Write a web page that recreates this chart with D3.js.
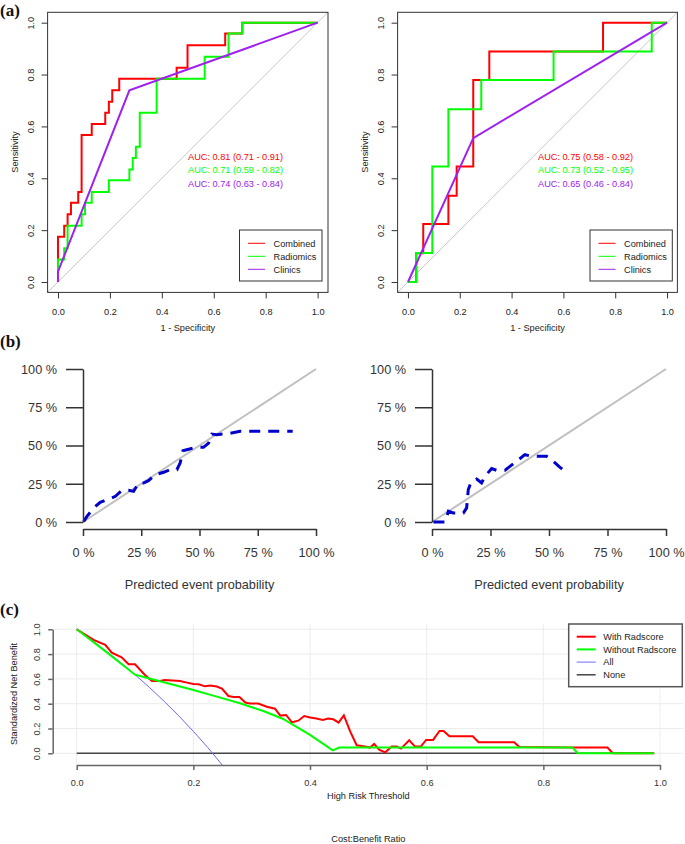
<!DOCTYPE html>
<html><head><meta charset="utf-8">
<script src="https://cdn.jsdelivr.net/npm/d3@7"></script>
<style>
html,body{margin:0;padding:0;background:#fff;}
svg{display:block;}
text{font-family:"Liberation Sans",Arial,sans-serif;fill:#222;}
</style></head>
<body>
<script>
// ---------- DATA ----------
// (a) ROC curves, left (training) – step vertices (FPR, TPR)
const rocLCombFpr = [0,0.024,0.037,0.05,0.078,0.091,0.13,0.182,0.196,0.209,0.236,0.457,0.499,0.644,0.71,1];
const rocLCombTpr = [0,0.175,0.217,0.261,0.306,0.347,0.567,0.609,0.653,0.695,0.739,0.784,0.826,0.913,0.958,1];
const rocLRadFpr  = [0,0.024,0.037,0.091,0.104,0.13,0.196,0.275,0.288,0.30,0.315,0.38,0.565,0.657,0.71,1];
const rocLRadTpr  = [0,0.087,0.13,0.217,0.261,0.306,0.347,0.392,0.434,0.478,0.522,0.653,0.784,0.869,0.958,1];
const rocLCliFpr  = [0,0,0.275,1];
const rocLCliTpr  = [0,0.04,0.739,1];
// (a) ROC curves, right (validation)
const rocRCombFpr = [0,0.032,0.059,0.156,0.188,0.252,0.314,0.753,1];
const rocRCombTpr = [0,0,0.111,0.224,0.333,0.445,0.779,0.889,1];
const rocRRadFpr  = [0,0.032,0.094,0.156,0.283,0.562,0.941,1];
const rocRRadTpr  = [0,0,0.112,0.445,0.666,0.779,0.889,1];
const rocRCliFpr  = [0,0.252,1];
const rocRCliTpr  = [0,0.555,1];
const aucLeft  = ["AUC: 0.81 (0.71 - 0.91)","AUC: 0.71 (0.59 - 0.82)","AUC: 0.74 (0.63 - 0.84)"];
const aucRight = ["AUC: 0.75 (0.58 - 0.92)","AUC: 0.73 (0.52 - 0.95)","AUC: 0.65 (0.46 - 0.84)"];
const rocLegend = ["Combined","Radiomics","Clinics"];
const rocTicks = [0,0.2,0.4,0.6,0.8,1.0];

// (b) calibration curves
const calLPred = [0.003,0.017,0.046,0.074,0.117,0.139,0.167,0.196,0.217,0.239,0.26,0.281,0.31,0.346,0.374,0.403,0.417,0.429,0.457,0.481,0.517,0.539,0.553,0.574,0.603,0.631,0.674,0.789,0.9];
const calLObs  = [0.004,0.037,0.092,0.129,0.153,0.168,0.207,0.207,0.2,0.255,0.255,0.27,0.309,0.325,0.342,0.342,0.386,0.466,0.477,0.488,0.488,0.516,0.575,0.571,0.575,0.58,0.593,0.593,0.593];
const calRPred = [0.006,0.056,0.07,0.091,0.134,0.148,0.155,0.167,0.191,0.212,0.226,0.255,0.276,0.312,0.348,0.397,0.426,0.49,0.511,0.547,0.575];
const calRObs  = [0,0,0.07,0.059,0.059,0.092,0.211,0.261,0.281,0.255,0.298,0.349,0.338,0.338,0.381,0.44,0.429,0.429,0.407,0.357,0.325];
const calTicks = [0,0.25,0.5,0.75,1];
const calTickLabels = ["0 %","25 %","50 %","75 %","100 %"];

// (c) decision curves
const dcaWithX = [0,0.029,0.049,0.06,0.077,0.089,0.1,0.117,0.129,0.143,0.151,0.177,0.189,0.2,0.209,0.22,0.229,0.24,0.249,0.26,0.269,0.279,0.289,0.297,0.311,0.326,0.34,0.349,0.359,0.369,0.38,0.39,0.4,0.411,0.422,0.431,0.44,0.449,0.458,0.469,0.48,0.494,0.503,0.51,0.519,0.529,0.54,0.549,0.556,0.57,0.58,0.59,0.599,0.611,0.622,0.629,0.639,0.679,0.689,0.75,0.759,0.85,0.91,0.919,0.99];
const dcaWithY = [1,0.914,0.874,0.812,0.774,0.718,0.718,0.632,0.583,0.583,0.591,0.583,0.57,0.559,0.556,0.54,0.546,0.538,0.522,0.462,0.454,0.454,0.409,0.401,0.401,0.376,0.36,0.304,0.309,0.25,0.263,0.301,0.288,0.28,0.269,0.28,0.274,0.247,0.306,0.175,0.065,0.054,0.046,0.075,0.027,0.008,0.054,0.054,0.038,0.105,0.054,0.054,0.108,0.108,0.18,0.18,0.137,0.137,0.089,0.089,0.051,0.046,0.046,0,0];
const dcaWithoutX = [0,0.05,0.1,0.12,0.2,0.24,0.28,0.32,0.354,0.4,0.439,0.45,0.85,0.859,0.99];
const dcaWithoutY = [1,0.82,0.634,0.61,0.51,0.457,0.403,0.341,0.277,0.148,0.024,0.046,0.046,0,0];
const dcaAllX = [0,0.025,0.05,0.075,0.1,0.125,0.15,0.175,0.2,0.225,0.25];
const dcaAllY = [1,0.916,0.827,0.733,0.634,0.530,0.419,0.302,0.177,0.045,-0.097];
const dcaNoneX = [0,0.99];
const dcaNoneY = [0,0];
const dcaLegend = ["With Radscore","Without Radscore","All","None"];
const dcaTicks = [0,0.2,0.4,0.6,0.8,1.0];

// ---------- DRAW ----------
const W = 685, H = 844;
const svg = d3.select("body").append("svg").attr("width", W).attr("height", H);
const fmt1 = d3.format(".1f");
const zip = (a, b) => a.map((v, i) => [v, b[i]]);

function panelLabel(t, x, y) {
  svg.append("text").attr("x", x).attr("y", y).text(t)
    .style("font-family", "'Liberation Serif','Times New Roman',serif")
    .style("font-weight", "bold").style("font-size", "17px").style("fill", "#111");
}

// ===== (a) ROC =====
function rocPanel(x0, x1, curves, aucTexts, aucX, legX0, legX1) {
  const x = d3.scaleLinear().domain([-0.04, 1.04]).range([x0, x1]);
  const y = d3.scaleLinear().domain([-0.04, 1.04]).range([292.4, 12.3]);
  const g = svg.append("g");
  const clipId = "clip" + Math.round(x0);
  svg.append("clipPath").attr("id", clipId).append("rect")
    .attr("x", x(-0.04)).attr("y", y(1.04)).attr("width", x(1.04) - x(-0.04)).attr("height", y(-0.04) - y(1.04));
  // diagonal
  g.append("line").attr("clip-path", `url(#${clipId})`)
    .attr("x1", x(-0.04)).attr("y1", y(-0.04)).attr("x2", x(1.04)).attr("y2", y(1.04))
    .attr("stroke", "#c8c8c8").attr("stroke-width", 1);
  curves.forEach(c => {
    const line = d3.line().x(d => x(d[0])).y(d => y(d[1])).curve(c.step ? d3.curveStepBefore : d3.curveLinear);
    g.append("path").attr("d", line(zip(c.fx, c.ty))).attr("fill", "none")
      .attr("stroke", c.color).attr("stroke-width", 2);
  });
  // box
  g.append("rect").attr("x", x(-0.04)).attr("y", y(1.04)).attr("width", x(1.04) - x(-0.04))
    .attr("height", y(-0.04) - y(1.04)).attr("fill", "none").attr("stroke", "#333").attr("stroke-width", 1);
  // x axis
  const ax = g.append("g").attr("transform", `translate(0,${y(-0.04)})`)
    .call(d3.axisBottom(x).tickValues(rocTicks).tickFormat(fmt1).tickSize(6).tickSizeOuter(0));
  ax.select(".domain").remove();
  ax.selectAll("line").attr("stroke", "#333");
  ax.selectAll("text").attr("y", 19.5).attr("dy", "0.35em").style("font-size", "9.2px").style("fill", "#222")
    .style("font-family", "'Liberation Sans',Arial,sans-serif");
  // y axis
  const ay = g.append("g").attr("transform", `translate(${x(-0.04)},0)`)
    .call(d3.axisLeft(y).tickValues(rocTicks).tickFormat(fmt1).tickSize(6).tickSizeOuter(0));
  ay.select(".domain").remove();
  ay.selectAll("line").attr("stroke", "#333");
  ay.selectAll("text").attr("x", 0).attr("y", 0).attr("dy", "0.35em").attr("text-anchor", "middle")
    .attr("transform", "translate(-16.6,0) rotate(-90)").style("font-size", "9.2px").style("fill", "#222")
    .style("font-family", "'Liberation Sans',Arial,sans-serif");
  // axis titles
  g.append("text").attr("x", (x(-0.04) + x(1.04)) / 2).attr("y", 327.5).attr("dy", "0.35em")
    .attr("text-anchor", "middle").style("font-size", "9.2px").text("1 - Specificity");
  g.append("text").attr("transform", `translate(${x0 - 32.5},152) rotate(-90)`).attr("dy", "0.35em")
    .attr("text-anchor", "middle").style("font-size", "9.2px").text("Sensitivity");
  // AUC texts
  aucTexts.forEach((t, i) => {
    g.append("text").attr("x", aucX).attr("y", 157 + i * 13.2).attr("dy", "0.35em")
      .style("font-size", "9.2px").style("fill", curves[i].color).text(t);
  });
  // legend
  g.append("rect").attr("x", legX0).attr("y", 230).attr("width", legX1 - legX0).attr("height", 51)
    .attr("fill", "#fff").attr("stroke", "#333").attr("stroke-width", 1);
  rocLegend.forEach((t, i) => {
    const ly = 243.3 + i * 13;
    g.append("line").attr("x1", legX0 + 8.5).attr("x2", legX0 + 25.5).attr("y1", ly).attr("y2", ly)
      .attr("stroke", curves[i].color).attr("stroke-width", 1);
    g.append("text").attr("x", legX0 + 34).attr("y", ly).attr("dy", "0.35em").style("font-size", "9.2px").text(t);
  });
}
const RED = "#ff0000", GREEN = "#00ff00", PURPLE = "#a020f0";
rocPanel(47.6, 328, [
  {fx: rocLCombFpr, ty: rocLCombTpr, color: RED, step: true},
  {fx: rocLRadFpr, ty: rocLRadTpr, color: GREEN, step: true},
  {fx: rocLCliFpr, ty: rocLCliTpr, color: PURPLE, step: false}
], aucLeft, 188, 239.5, 322);
rocPanel(397.6, 677.4, [
  {fx: rocRCombFpr, ty: rocRCombTpr, color: RED, step: true},
  {fx: rocRRadFpr, ty: rocRRadTpr, color: GREEN, step: true},
  {fx: rocRCliFpr, ty: rocRCliTpr, color: PURPLE, step: false}
], aucRight, 538, 590, 672.3);
panelLabel("(a)", 0, 16);

// ===== (b) calibration =====
function calPanel(x0, x1, px, py) {
  const x = d3.scaleLinear().domain([0, 1]).range([x0, x1]);
  const y = d3.scaleLinear().domain([0, 1]).range([522, 369]);
  const g = svg.append("g");
  g.append("line").attr("x1", x(0)).attr("y1", y(0)).attr("x2", x(1)).attr("y2", y(1))
    .attr("stroke", "#c0c0c0").attr("stroke-width", 2);
  const line = d3.line().x(d => x(d[0])).y(d => y(d[1]));
  g.append("path").attr("d", line(zip(px, py))).attr("fill", "none")
    .attr("stroke", "#0000cc").attr("stroke-width", 3).attr("stroke-dasharray", "11,8");
  const ax = g.append("g").attr("transform", "translate(0,529)")
    .call(d3.axisBottom(x).tickValues(calTicks).tickFormat((d, i) => calTickLabels[i]).tickSize(7).tickSizeOuter(0));
  ax.select(".domain").attr("stroke", "#333").attr("stroke-width", 1.5);
  ax.selectAll("line").attr("stroke", "#333").attr("stroke-width", 1.5);
  ax.selectAll("text").attr("y", 24).attr("dy", "0.35em").style("font-size", "12.7px").style("fill", "#333")
    .style("font-family", "'Liberation Sans',Arial,sans-serif");
  const ay = g.append("g").attr("transform", `translate(${x0},0)`)
    .call(d3.axisLeft(y).tickValues(calTicks).tickFormat((d, i) => calTickLabels[i]).tickSize(17).tickSizeOuter(0));
  ay.select(".domain").attr("stroke", "#333").attr("stroke-width", 1.5);
  ay.selectAll("line").attr("stroke", "#333").attr("stroke-width", 1.5);
  ay.selectAll("text").attr("x", -26).attr("dy", "0.35em").style("font-size", "12.7px").style("fill", "#333")
    .style("font-family", "'Liberation Sans',Arial,sans-serif");
  g.append("text").attr("x", (x0 + x1) / 2).attr("y", 585).attr("dy", "0.35em").attr("text-anchor", "middle")
    .style("font-size", "12.7px").style("fill", "#333").text("Predicted event probability");
}
calPanel(83, 316, calLPred, calLObs);
calPanel(432, 666, calRPred, calRObs);
panelLabel("(b)", 0, 347);

// ===== (c) DCA =====
(function () {
  const x = d3.scaleLinear().domain([0, 1]).range([76.7, 660]);
  const y = d3.scaleLinear().domain([0, 1]).range([753.3, 629.3]);
  const left = x(-0.04), right = x(1.04), top = 624, bottom = 765;
  const g = svg.append("g");
  svg.append("clipPath").attr("id", "clipc").append("rect")
    .attr("x", left).attr("y", top).attr("width", right - left).attr("height", bottom - top);
  // grid
  dcaTicks.forEach(t => {
    g.append("line").attr("x1", left).attr("x2", right).attr("y1", y(t)).attr("y2", y(t))
      .attr("stroke", "#ececec").attr("stroke-width", 1);
    g.append("line").attr("x1", x(t)).attr("x2", x(t)).attr("y1", top).attr("y2", bottom)
      .attr("stroke", "#ececec").attr("stroke-width", 1);
  });
  const line = d3.line().x(d => x(d[0])).y(d => y(d[1]));
  const cg = g.append("g").attr("clip-path", "url(#clipc)");
  cg.append("path").attr("d", line(zip(dcaNoneX, dcaNoneY))).attr("fill", "none").attr("stroke", "#444").attr("stroke-width", 1.5);
  cg.append("path").attr("d", line(zip(dcaAllX, dcaAllY))).attr("fill", "none").attr("stroke", "#6a6aff").attr("stroke-width", 1);
  cg.append("path").attr("d", line(zip(dcaWithX, dcaWithY))).attr("fill", "none").attr("stroke", RED).attr("stroke-width", 2);
  cg.append("path").attr("d", line(zip(dcaWithoutX, dcaWithoutY))).attr("fill", "none").attr("stroke", GREEN).attr("stroke-width", 2);
  // axes
  const ax = g.append("g").attr("transform", `translate(0,${bottom})`)
    .call(d3.axisBottom(x).tickValues(dcaTicks).tickFormat(fmt1).tickSize(5).tickSizeOuter(0));
  ax.select(".domain").attr("stroke", "#666").attr("stroke-width", 1.5);
  ax.selectAll("line").attr("stroke", "#666").attr("stroke-width", 1.5);
  ax.selectAll("text").attr("y", 17.7).attr("dy", "0.35em").style("font-size", "9.2px").style("fill", "#333")
    .style("font-family", "'Liberation Sans',Arial,sans-serif");
  const ay = g.append("g").attr("transform", `translate(52.7,0)`)
    .call(d3.axisLeft(y).tickValues(dcaTicks).tickFormat(fmt1).tickSize(4.5).tickSizeOuter(0));
  ay.select(".domain").attr("stroke", "#666").attr("stroke-width", 1.5);
  ay.selectAll("line").attr("stroke", "#666").attr("stroke-width", 1.5);
  ay.selectAll("text").attr("x", 0).attr("y", 0).attr("dy", "0.35em").attr("text-anchor", "middle")
    .attr("transform", "translate(-16,0) rotate(-90)").style("font-size", "9.2px").style("fill", "#333")
    .style("font-family", "'Liberation Sans',Arial,sans-serif");
  g.append("text").attr("x", (left + right) / 2).attr("y", 796).attr("dy", "0.35em").attr("text-anchor", "middle")
    .style("font-size", "9.2px").text("High Risk Threshold");
  g.append("text").attr("x", (left + right) / 2).attr("y", 838.5).attr("dy", "0.35em").attr("text-anchor", "middle")
    .style("font-size", "9.2px").text("Cost:Benefit Ratio");
  g.append("text").attr("transform", "translate(14,694) rotate(-90)").attr("dy", "0.35em").attr("text-anchor", "middle")
    .style("font-size", "9.2px").text("Standardized Net Benefit");
  // legend
  const lx0 = 568.7, lx1 = 683.3;
  g.append("rect").attr("x", lx0).attr("y", 624).attr("width", lx1 - lx0 - 1).attr("height", 62.7)
    .attr("fill", "#fff").attr("stroke", "#555").attr("stroke-width", 1.5);
  const legCols = [RED, GREEN, "#6a6aff", "#444"], legW = [2, 2, 1, 1.5];
  dcaLegend.forEach((t, i) => {
    const ly = 636.7 + i * 12.7;
    g.append("line").attr("x1", 576.7).attr("x2", 595.7).attr("y1", ly).attr("y2", ly)
      .attr("stroke", legCols[i]).attr("stroke-width", legW[i]);
    g.append("text").attr("x", 603.3).attr("y", ly).attr("dy", "0.35em").style("font-size", "9.2px").text(t);
  });
})();
panelLabel("(c)", 0, 615);
</script>
</body></html>
